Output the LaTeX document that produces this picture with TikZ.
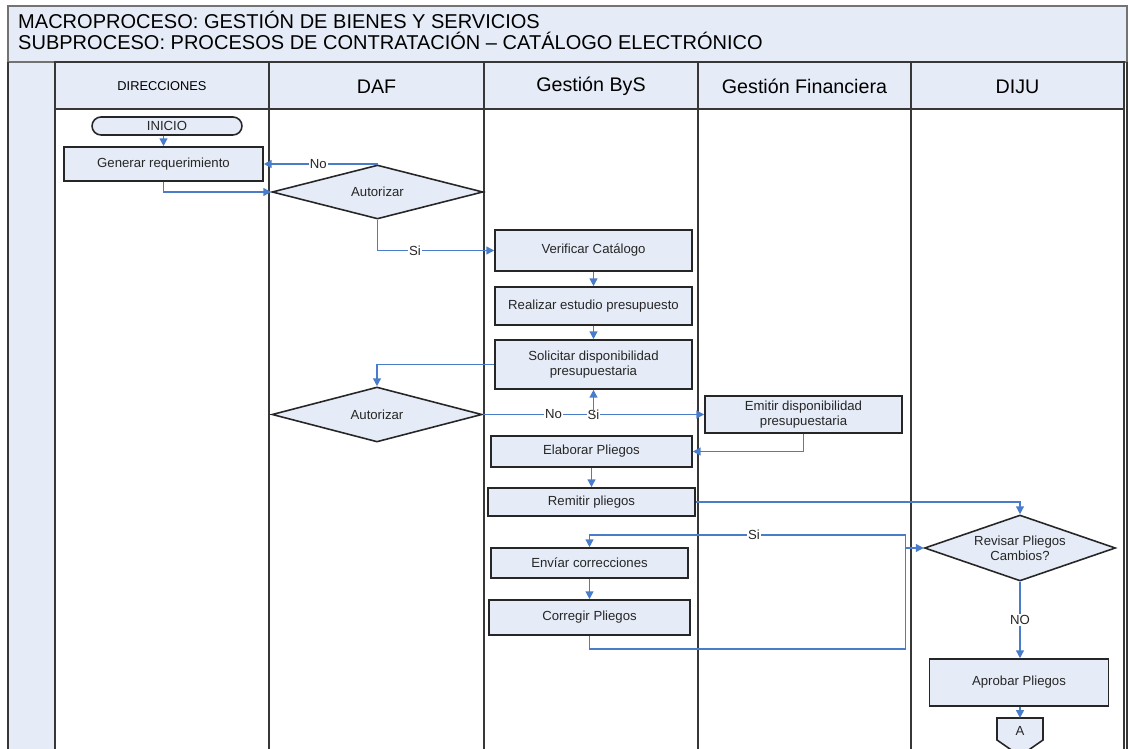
\documentclass[tikz,border=0pt]{standalone}
\usepackage{fontspec}
\setmainfont{Liberation Sans}
\usetikzlibrary{shapes.geometric,arrows.meta}
\definecolor{paleblue}{RGB}{230,236,247}
\definecolor{flowblue}{RGB}{74,125,201}
\definecolor{laneline}{RGB}{55,55,55}

\begin{document}
\begin{tikzpicture}[x=0.02cm,y=-0.02cm,
    every node/.style={font=\fontsize{7.5}{8.4}\selectfont, text=black!85},
    task/.style={draw=black!85, line width=0.9pt, fill=paleblue, align=center, inner sep=0pt},
    decision/.style={diamond, aspect=3, draw=black!85, line width=0.9pt, fill=paleblue, align=center, inner sep=0pt},
    flow/.style={draw=flowblue, line width=0.85pt, -{Triangle[length=4.5pt,width=4.5pt]}},
    tag/.style={fill=white, inner sep=0.6pt},
    lanehead/.style={font=\fontsize{11.2}{13}\selectfont, text=black}]
\useasboundingbox (0,0) rectangle (1129,749);
% title and lanes
\fill[paleblue] (8,6) rectangle (1127,62);
\fill[paleblue] (8,62) rectangle (55,760);
\draw[black!55, line width=0.6pt] (8,6) rectangle (1127,62);
\node[anchor=base west, font=\fontsize{11.4}{12}\selectfont, text=black] (title1) at (12,28.5) {MACROPROCESO: GESTIÓN DE BIENES Y SERVICIOS};
\node[anchor=base west, font=\fontsize{11.4}{12}\selectfont, text=black] (title2) at (12,49.5) {SUBPROCESO: PROCESOS DE CONTRATACIÓN – CATÁLOGO ELECTRÓNICO};
\foreach \xa/\xb/\lbl [count=\i] in {55/269/{\fontsize{7.3}{9}\selectfont DIRECCIONES}, 269/484/DAF, 484/698/Gestión ByS, 698/911/Gestión Financiera, 911/1124/DIJU} {
    \draw[laneline, line width=1pt, fill=paleblue] (\xa,62) rectangle (\xb,109);
    \node[lanehead] (head\i) at ({(\xa+\xb)/2},86.5) {\lbl};
    \draw[laneline, line width=1pt] (\xa,109) -- (\xa,760) (\xb,109) -- (\xb,760);
}
\draw[laneline, line width=1pt] (8,62) -- (8,760) (1127,62) -- (1127,760);

% activities
\node[task, rounded corners=0.18cm, minimum width=3cm, minimum height=0.36cm] (ini) at (167,126) {INICIO};
\node[task, minimum width=3.98cm, minimum height=0.68cm] (gen) at (163.5,164) {Generar requerimiento};
\node[decision, minimum width=4.22cm, minimum height=1.08cm] (aut1) at (377.5,192) {Autorizar};
\node[task, minimum width=3.94cm, minimum height=0.82cm] (ver) at (593.5,250.5) {Verificar Catálogo};
\node[task, minimum width=3.94cm, minimum height=0.76cm] (rea) at (593.5,306) {Realizar estudio presupuesto};
\node[task, minimum width=3.94cm, minimum height=0.98cm] (sol) at (593.5,364.5) {Solicitar disponibilidad\\presupuestaria};
\node[decision, minimum width=4.2cm, minimum height=1.1cm] (aut2) at (377,414.5) {Autorizar};
\node[task, minimum width=3.94cm, minimum height=0.74cm] (emi) at (803.5,414.5) {Emitir disponibilidad\\presupuestaria};
\node[task, minimum width=4.02cm, minimum height=0.62cm] (ela) at (591.5,451.5) {Elaborar Pliegos};
\node[task, minimum width=4.14cm, minimum height=0.56cm] (rem) at (591.5,502) {Remitir pliegos};
\node[decision, minimum width=3.82cm, minimum height=1.32cm] (rev) at (1020,548) {Revisar Pliegos\\Cambios?};
\node[task, minimum width=3.94cm, minimum height=0.6cm] (env) at (589.5,563) {Envíar correcciones};
\node[task, minimum width=4.02cm, minimum height=0.7cm] (cor) at (589.5,617.5) {Corregir Pliegos};
\node[task, minimum width=3.58cm, minimum height=0.94cm] (apr) at (1019,682.5) {Aprobar Pliegos};
\draw[draw=black!85, line width=0.9pt, fill=paleblue] (997,718) -- (1043,718) -- (1043,740) -- (1020,756) -- (997,740) -- cycle;
\coordinate (atop) at (1020,718);
\node (conA) at (1020,731) {A};

% connectors
\draw[flow] (gen.north |- ini.south) -- (gen.north);
\draw[flow] (aut1.north) |- node[tag,pos=0.76]{No} (gen.east);
\draw[flow] (gen.south) |- (aut1.west);
\draw[flow] (aut1.south) |- node[tag,pos=0.66]{Si} (ver.west);
\draw[flow] (ver) -- (rea);
\draw[flow] (rea) -- (sol);
\draw[flow] (sol.west) -| (aut2.north);
\draw[flow] (aut2.east) -- node[tag,pos=0.32]{No} node[tag,pos=0.5]{Si} (emi.west);
\draw[flow] (sol.south |- aut2.east) -- (sol.south);
\draw[flow] (emi.south) |- (ela.east);
\draw[flow] (ela) -- (rem);
\draw[flow] (rem.east) -| (rev.north);
\path (rev.west) ++(-18,0) coordinate (jn);
\draw[flow] (cor.south) -- ++(0,13) -| (jn) -- (rev.west);
\draw[flow] (jn) -- ++(0,-13) -| node[tag,pos=0.24]{Si} (env.north);
\draw[flow] (env) -- (cor);
\draw[flow] (rev.south) -- node[tag]{NO} (rev.south |- apr.north);
\draw[flow] (apr.south -| atop) -- (atop);
\end{tikzpicture}
\end{document}
